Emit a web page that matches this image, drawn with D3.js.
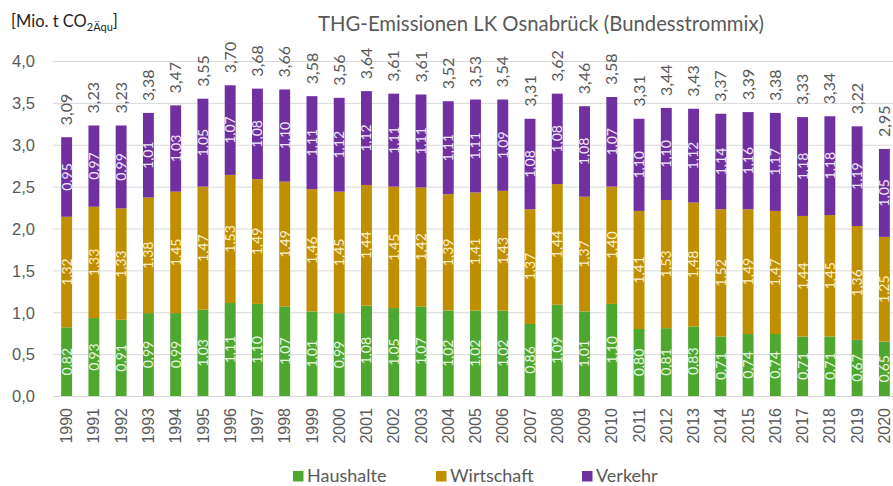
<!DOCTYPE html>
<html><head><meta charset="utf-8">
<script src="https://cdn.jsdelivr.net/npm/d3@7"></script>
<style>body{margin:0;background:#fff}svg{display:block;font-family:Lato,"Open Sans",sans-serif}</style>
</head><body><svg id="c" width="893" height="486"></svg>
<script>
const years = ["1990","1991","1992","1993","1994","1995","1996","1997","1998","1999","2000","2001","2002","2003","2004","2005","2006","2007","2008","2009","2010","2011","2012","2013","2014","2015","2016","2017","2018","2019","2020"];
const haushalte = [0.82,0.93,0.91,0.99,0.99,1.03,1.11,1.10,1.07,1.01,0.99,1.08,1.05,1.07,1.02,1.02,1.02,0.86,1.09,1.01,1.10,0.80,0.81,0.83,0.71,0.74,0.74,0.71,0.71,0.67,0.65];
const wirtschaft = [1.32,1.33,1.33,1.38,1.45,1.47,1.53,1.49,1.49,1.46,1.45,1.44,1.45,1.42,1.39,1.41,1.43,1.37,1.44,1.37,1.40,1.41,1.53,1.48,1.52,1.49,1.47,1.44,1.45,1.36,1.25];
const verkehr = [0.95,0.97,0.99,1.01,1.03,1.05,1.07,1.08,1.10,1.11,1.12,1.12,1.11,1.11,1.11,1.11,1.09,1.08,1.08,1.08,1.07,1.10,1.10,1.12,1.14,1.16,1.17,1.18,1.18,1.19,1.05];
const totals = [3.09,3.23,3.23,3.38,3.47,3.55,3.70,3.68,3.66,3.58,3.56,3.64,3.61,3.61,3.52,3.53,3.54,3.31,3.62,3.46,3.58,3.31,3.44,3.43,3.37,3.39,3.38,3.33,3.34,3.22,2.95];
const seriesNames = ["Haushalte","Wirtschaft","Verkehr"];
const yTicks = [0,0.5,1,1.5,2,2.5,3,3.5,4];

const colors = {Haushalte:"#4ea72e", Wirtschaft:"#bf8f00", Verkehr:"#7030a0"};
const labelColors = {Haushalte:"#eaf6e2", Wirtschaft:"#fbf0cc", Verkehr:"#f1e8f8"};
const fmt = v => v.toFixed(2).replace(".", ",");
const textCol = "#595959";

const svg = d3.select("#c");
const x = d3.scaleBand().domain(years).range([53, 898]).paddingInner(0.6).paddingOuter(0.3);
const y = d3.scaleLinear().domain([0, 4]).range([396, 61]);

const rows = years.map((yr, i) => ({year: yr, Haushalte: haushalte[i], Wirtschaft: wirtschaft[i], Verkehr: verkehr[i], total: totals[i]}));
const stack = d3.stack().keys(seriesNames)(rows);

// y axis labels
const yAxis = d3.axisLeft(y).tickValues(yTicks).tickSize(0).tickPadding(0).tickFormat(v => v.toFixed(1).replace(".", ","));
const gy = svg.append("g").attr("transform", "translate(35,0)").call(yAxis);
gy.select(".domain").remove();
gy.selectAll("text").attr("fill", textCol).style("font-size", "16.5px").attr("dy", "0.35em");
// gridlines
svg.append("g").selectAll("line").data(yTicks).join("line")
  .attr("x1", 53).attr("x2", 893).attr("y1", d => y(d)+0.5).attr("y2", d => y(d)+0.5)
  .attr("stroke", "#d9d9d9").attr("stroke-width", 1);

// bars
const layers = svg.append("g").selectAll("g").data(stack).join("g").attr("fill", d => colors[d.key]);
layers.selectAll("rect").data(d => d).join("rect")
  .attr("x", d => x(d.data.year)).attr("width", x.bandwidth())
  .attr("y", d => y(d[1])).attr("height", d => y(d[0]) - y(d[1]));

// segment labels
const lab = svg.append("g");
stack.forEach(layer => {
  lab.append("g").selectAll("text").data(layer).join("text")
    .attr("transform", d => `translate(${x(d.data.year) + x.bandwidth()/2},${(y(d[0]) + y(d[1]))/2}) rotate(-90)`)
    .attr("text-anchor", "middle").attr("dy", "0.35em")
    .attr("fill", labelColors[layer.key]).style("font-size", "14px")
    .text(d => fmt(d.data[layer.key]));
});

// totals
svg.append("g").selectAll("text").data(rows).join("text")
  .attr("transform", d => `translate(${x(d.year) + x.bandwidth()/2},${y(d.Haushalte + d.Wirtschaft + d.Verkehr) - 12}) rotate(-90)`)
  .attr("text-anchor", "start").attr("dy", "0.35em")
  .attr("fill", textCol).style("font-size", "16px")
  .text(d => fmt(d.total));

// x axis labels
const xAxis = d3.axisBottom(x).tickSize(0).tickPadding(0);
const gx = svg.append("g").attr("transform", "translate(0,396)").call(xAxis);
gx.select(".domain").remove();
gx.selectAll("text").attr("fill", textCol).style("font-size", "16px")
  .attr("transform", "translate(0,12) rotate(-90)").attr("text-anchor", "end").attr("dy", "0.35em").attr("y", 0).attr("x", 0);

// title
svg.append("text").attr("x", 541).attr("y", 31).attr("text-anchor", "middle")
  .attr("fill", textCol).style("font-size", "20.3px").text("THG-Emissionen LK Osnabrück (Bundesstrommix)");

// unit
const u = svg.append("text").attr("x", 11).attr("y", 27).attr("fill", "#262626").style("font-size", "16.5px");
u.append("tspan").text("[Mio. t CO");
u.append("tspan").attr("dy", 4).style("font-size", "11px").text("2Äqu");
u.append("tspan").attr("dy", -4).text("]");

// legend
const legX = [293, 436, 582];
const lg = svg.append("g").selectAll("g").data(seriesNames).join("g")
  .attr("transform", (d, i) => `translate(${legX[i]},471)`);
lg.append("rect").attr("width", 10.5).attr("height", 10.5).attr("fill", d => colors[d]);
lg.append("text").attr("x", 14).attr("y", 10.5).attr("fill", textCol).style("font-size", "18px").text(d => d);
</script></body></html>
